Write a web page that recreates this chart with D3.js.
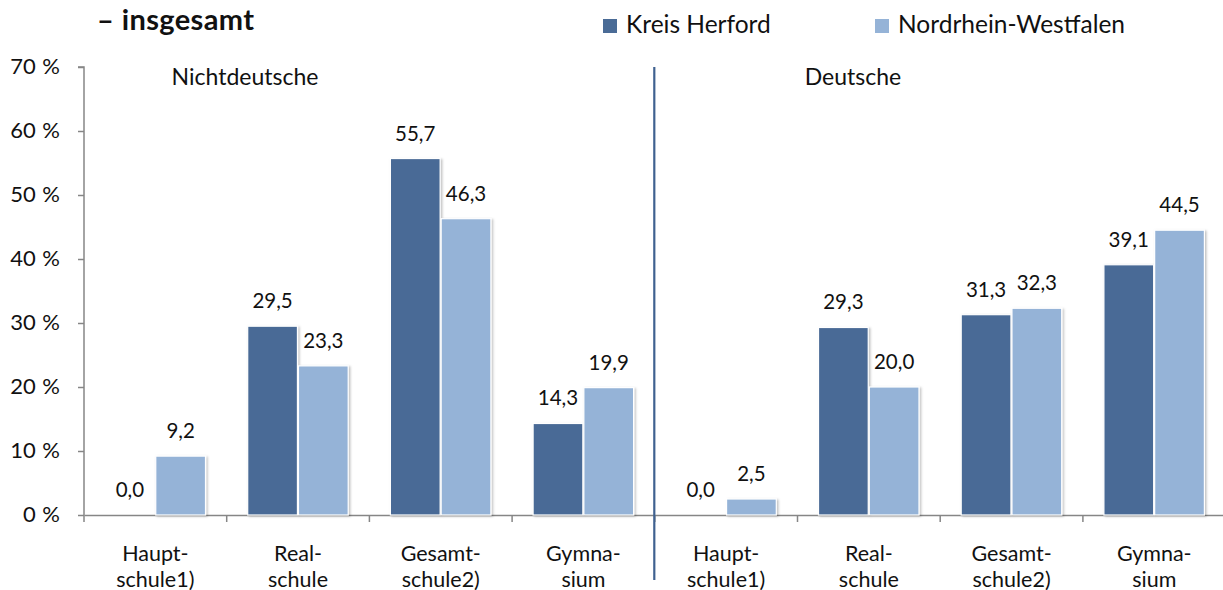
<!DOCTYPE html>
<html><head><meta charset="utf-8">
<script src="https://cdn.jsdelivr.net/npm/d3@7"></script>
<style>body{margin:0;background:#fff}svg{display:block;font-family:Lato,"Open Sans",sans-serif}</style>
</head><body><svg id="c" width="1223" height="590"></svg>
<script>
const categories = ["Haupt-|schule1)","Real-|schule","Gesamt-|schule2)","Gymna-|sium"];
const groups = ["Nichtdeutsche","Deutsche"];
const seriesNames = ["Kreis Herford","Nordrhein-Westfalen"];
const kreisNicht = [0.0, 29.5, 55.7, 14.3];
const nrwNicht = [9.2, 23.3, 46.3, 19.9];
const kreisDeut = [0.0, 29.3, 31.3, 39.1];
const nrwDeut = [2.5, 20.0, 32.3, 44.5];
const yTicks = [0,10,20,30,40,50,60,70];
const colors = ["#4A6B96","#95B3D7"];

const svg = d3.select("#c");
const mLeft = 84, mTop = 67, mBottom = 515, mRight = 1225.6;
const slots = [];
groups.forEach((g,gi)=>categories.forEach((c,ci)=>slots.push(gi+"_"+ci)));
const x = d3.scaleBand().domain(slots).range([mLeft,mRight]).paddingInner(0).paddingOuter(0);
const xs = d3.scaleBand().domain([0,1]).range([21,121.5]).paddingInner(0.02);
const y = d3.scaleLinear().domain([0,70]).range([mBottom,mTop]);

const defs = svg.append("defs");
const f = defs.append("filter").attr("id","sh").attr("x","-10%").attr("y","-10%").attr("width","130%").attr("height","130%");
f.append("feDropShadow").attr("dx",1.5).attr("dy",1).attr("stdDeviation",1.2).attr("flood-color","#000").attr("flood-opacity",0.25);

// title
svg.append("text").attr("x",97).attr("y",29.5).attr("font-size",29).attr("font-weight","bold").attr("letter-spacing","0.4px").attr("fill","#111").text("– insgesamt");

// legend
const lg = [[603,626],[875,898]];
seriesNames.forEach((s,i)=>{
  svg.append("rect").attr("x",lg[i][0]).attr("y",19).attr("width",14).attr("height",14).attr("fill",colors[i]);
  svg.append("text").attr("x",lg[i][1]).attr("y",33).attr("font-size",24.5).attr("fill","#111").text(s);
});

// y axis
const yAxis = d3.axisLeft(y).tickValues(yTicks).tickSize(6).tickFormat(d=>d+" %");
const ya = svg.append("g").attr("transform",`translate(${mLeft},0)`).call(yAxis);
ya.select(".domain").attr("stroke","#868686").attr("stroke-width",1.5).attr("d",`M-6,${mTop}H0V${mBottom}`);
ya.selectAll(".tick line").attr("stroke","#868686").attr("stroke-width",1.5);
ya.selectAll(".tick text").attr("font-size",22).attr("fill","#111").attr("x",-24).attr("dy","6.5").attr("word-spacing","1px").attr("font-family","Lato, sans-serif");

// x axis baseline + ticks
const xa = svg.append("g").attr("transform",`translate(0,${mBottom})`)
  .call(d3.axisBottom(x).tickSize(0).tickFormat(""));
xa.select(".domain").attr("stroke","#868686").attr("stroke-width",1.5);
xa.selectAll(".tick").remove();
slots.forEach((s,i)=>{
  const xx = x(s);
  svg.append("line").attr("x1",xx).attr("x2",xx).attr("y1",mBottom).attr("y2",mBottom+7).attr("stroke","#868686").attr("stroke-width",1.5);
});

// bars
const data = [[kreisNicht,nrwNicht],[kreisDeut,nrwDeut]];
const fmt = v => v.toFixed(1).replace(".",",");
groups.forEach((g,gi)=>{
  categories.forEach((c,ci)=>{
    [0,1].forEach(si=>{
      const v = data[gi][si][ci];
      const bx = x(gi+"_"+ci)+xs(si);
      if(v>0){
        svg.append("rect").attr("x",bx).attr("y",y(v)).attr("width",xs.bandwidth()).attr("height",y(0)-y(v))
          .attr("fill",colors[si]).attr("stroke","#fff").attr("stroke-width",1.2).attr("filter","url(#sh)");
      }
      svg.append("text").attr("x",bx+xs.bandwidth()/2).attr("y",y(v)-18).attr("text-anchor","middle")
        .attr("font-size",20.5).attr("fill","#111").text(fmt(v));
    });
    const lines = c.split("|");
    const cx = x(gi+"_"+ci)+x.bandwidth()/2;
    lines.forEach((t,li)=>svg.append("text").attr("x",cx).attr("y",561+li*25.5).attr("text-anchor","middle")
      .attr("font-size",21.5).attr("fill","#111").text(t));
  });
});

// group labels
svg.append("text").attr("x",245).attr("y",85).attr("text-anchor","middle").attr("font-size",23).attr("fill","#111").text(groups[0]);
svg.append("text").attr("x",853).attr("y",85).attr("text-anchor","middle").attr("font-size",23).attr("fill","#111").text(groups[1]);

// divider
const dx = x("1_0");
svg.append("line").attr("x1",dx-0.5).attr("x2",dx-0.5).attr("y1",67).attr("y2",580).attr("stroke","#3F6190").attr("stroke-width",2.2);
</script></body></html>
